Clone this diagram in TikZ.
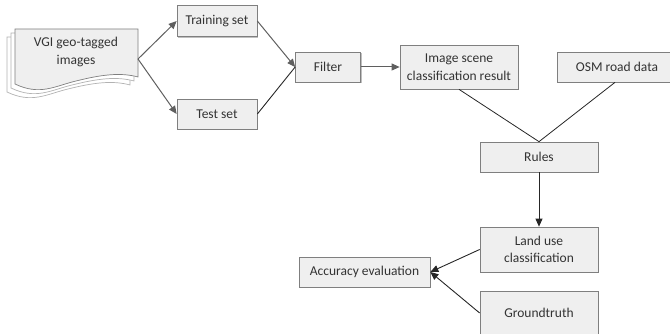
\documentclass[tikz,border=0pt]{standalone}
\usepackage{fontspec}
\setmainfont{Carlito}
\usetikzlibrary{arrows.meta,shadows}
\definecolor{boxfill}{HTML}{EFEFEF}
\definecolor{boxline}{HTML}{7F7F7F}
\definecolor{ink}{HTML}{333333}
\definecolor{arrowgray}{HTML}{5F5F5F}
\newcommand{\sheet}[3]{\filldraw[draw=boxline,#3,line width=0.7pt,shift={(#1,#2)}] (15,29) -- (138,29) -- (138,77) .. controls (120,72) and (100,75) .. (76,81) .. controls (55,86) and (40,96) .. (15,84) -- cycle;}

\begin{document}
\begin{tikzpicture}[x=1pt,y=-1pt,font=\fontsize{13.5}{17.5}\selectfont\color{ink},
  box/.style={draw=boxline,fill=boxfill,line width=0.7pt,align=center,inner sep=0pt,
    drop shadow={shadow xshift=1.2pt,shadow yshift=-1.2pt,fill=black!25,opacity=1}},
  gline/.style={arrowgray,line width=1pt,-{Triangle[length=8pt,width=7pt]}},
  bline/.style={black!85,line width=0.9pt,-{Triangle[length=8pt,width=7pt]}}]
\useasboundingbox (0,0) rectangle (670,334);
\sheet{-8}{8}{fill=white,draw=boxline!60}\sheet{-4}{4}{fill=white,draw=boxline!60}\sheet{0}{0}{fill=boxfill}
\node[align=center] (vgi) at (76,52) {VGI geo-tagged\\images};
\coordinate (vgiout) at (138,59);
\node[box,minimum width=80pt,minimum height=31pt] (train) at (217,21) {Training set};
\node[box,minimum width=80pt,minimum height=30pt] (test) at (217,114) {Test set};
\node[box,minimum width=65pt,minimum height=30pt] (filter) at (328,67) {Filter};
\node[box,minimum width=118pt,minimum height=44pt] (scene) at (459,67) {Image scene\\classification result};
\node[box,minimum width=120pt,minimum height=30pt] (osm) at (617,67) {OSM road data};
\node[box,minimum width=118pt,minimum height=30pt] (rules) at (539,157) {Rules};
\node[box,minimum width=118pt,minimum height=45pt] (landuse) at (539,249.5) {Land use\\classification};
\node[box,minimum width=131pt,minimum height=30pt] (accuracy) at (364.5,272) {Accuracy evaluation};
\node[box,minimum width=118pt,minimum height=44pt] (truth) at (539,313) {Groundtruth};
\draw[gline] (vgiout) -- (train.west);
\draw[gline] (vgiout) -- (test.west);
\draw[gline] (train.east) -- (filter.west);
\draw[black!85,line width=0.9pt] (test.east) -- (filter.west);
\draw[gline] (filter.east) -- (scene.west);
\draw[black!85,line width=0.8pt] (scene.south) -- (rules.north);
\draw[black!85,line width=0.8pt] (osm.south) ++(-2,0) -- (rules.north);
\draw[bline] (rules.south) -- (landuse.north);
\draw[bline] (landuse.west) -- (accuracy.east);
\draw[bline] (truth.west) -- (accuracy.east);
\end{tikzpicture}
\end{document}
